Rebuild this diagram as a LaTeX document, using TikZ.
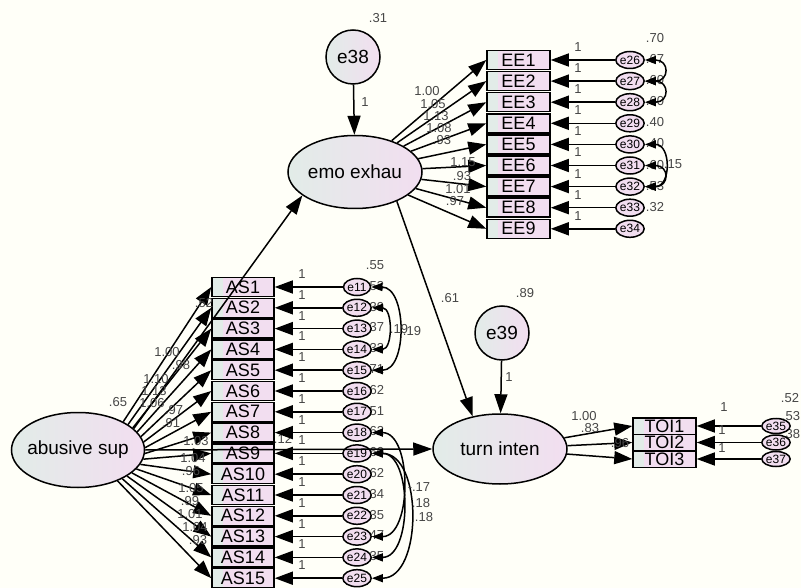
\documentclass[tikz,border=0pt]{standalone}
\usepackage{fontspec}
\setmainfont{Liberation Sans}
\usetikzlibrary{arrows.meta,shapes.geometric}
\definecolor{bgc}{RGB}{255,255,248}
\definecolor{pinkc}{RGB}{242,222,240}
\definecolor{greyc}{RGB}{226,236,232}
\definecolor{txtc}{RGB}{70,70,70}
\begin{document}
\begin{tikzpicture}[x=1pt,y=-1pt,
  lat/.style={ellipse,draw,line width=1.5pt,left color=greyc,right color=pinkc,inner xsep=-15pt,inner ysep=0pt,font=\fontsize{19}{19}\selectfont},
  res/.style={circle,draw,line width=1.5pt,left color=greyc,right color=pinkc,minimum size=54pt,inner sep=0pt,font=\fontsize{19}{19}\selectfont},
  obs/.style={rectangle,draw,line width=1.5pt,fill=pinkc,minimum width=62pt,minimum height=19pt,inner sep=0pt,font=\fontsize{18}{18}\selectfont,
    path picture={\fill[greyc] (path picture bounding box.south west) rectangle ([xshift=11pt]path picture bounding box.north west);}},
  err/.style={ellipse,draw,line width=1.5pt,fill=pinkc,minimum width=27pt,minimum height=17pt,inner sep=0pt,font=\fontsize{12}{12}\selectfont},
  arr/.style={line width=1.5pt,-{Triangle[length=18pt,width=13pt]}},
  barr/.style={line width=1.5pt,-{Triangle[length=19pt,width=13pt]}},
  darr/.style={line width=1.5pt,{Triangle[length=11pt,width=8pt]}-{Triangle[length=11pt,width=8pt]}},
  lab/.style={font=\fontsize{13}{13}\selectfont,text=txtc,inner sep=0pt}
]
\fill[bgc] (0,0) rectangle (801,588);
\useasboundingbox (0,0) rectangle (801,588);

% ---------- variance labels (drawn below the error ellipses)
\foreach \v [count=\i] in {.70,.67,.60,.60,.40,.40,.60,.53,.32} {
  \pgfmathsetmacro\yy{60+21.1*(\i-1)-22}
  \node[lab] at (655,\yy) {\v};
}
\foreach \v [count=\i] in {.55,.53,.39,.37,.33,.71,.62,.51,.62,.60,.62,.34,.35,.47,.35} {
  \pgfmathsetmacro\yy{287+20.8*(\i-1)-22}
  \node[lab] at (375,\yy) {\v};
}
\node[lab] at (790,398) {.52};
\node[lab] at (791,416) {.53};
\node[lab] at (791,434) {.38};
\node[lab] at (283,439) {.12};

% ---------- latent variables and residuals
\node[lat,minimum width=134pt,minimum height=73pt] (emo) at (355,172) {emo exhau};
\node[lat,minimum width=133pt,minimum height=75pt] (abs) at (78,450) {abusive sup};
\node[lat,minimum width=134pt,minimum height=70pt] (turn) at (500,449) {turn inten};
\node[res] (e38) at (353,57) {e38};
\node[res] (e39) at (502,333) {e39};
\node[lab] at (378,18) {.31};
\node[lab] at (525,293) {.89};
\node[lab] at (118,402) {.65};

% ---------- EE indicators
\foreach \i in {1,...,9} {
  \pgfmathsetmacro\yy{60+21.1*(\i-1)}
  \pgfmathtruncatemacro\en{25+\i}
  \node[obs,minimum width=63pt] (EE\i) at (518.5,\yy) {EE\i};
  \node[err] (e\en) at (630,\yy) {e\en};
  \draw[arr] (e\en) -- (EE\i.east);
  \node[lab] at (578,{\yy-13}) {1};
  \draw[arr] (emo) -- (EE\i.west);
}
% ---------- AS indicators
\foreach \i in {1,...,15} {
  \pgfmathsetmacro\yy{287+20.8*(\i-1)}
  \pgfmathtruncatemacro\en{10+\i}
  \node[obs] (AS\i) at (243,\yy) {AS\i};
  \node[err] (e\en) at (357,\yy) {e\en};
  \draw[arr] (e\en) -- (AS\i.east);
  \node[lab] at (302,{\yy-13}) {1};
}
\foreach \i in {1,...,15} {
  \pgfmathsetmacro\aa{32-(\i-1)*5}
  \draw[arr] (abs.\aa) -- (AS\i.west);
}
% ---------- TOI indicators
\foreach \i/\yy in {1/426,2/442.5,3/459} {
  \pgfmathtruncatemacro\en{34+\i}
  \node[obs,minimum width=63pt,minimum height=16.5pt] (TOI\i) at (664.5,\yy) {TOI\i};
  \node[err,minimum height=15pt] (e\en) at (776,\yy) {e\en};
  \draw[arr] (e\en) -- (TOI\i.east);
  \draw[arr] (turn) -- (TOI\i.west);
}
\node[lab] at (724,407) {1};
\node[lab] at (722,430) {1};
\node[lab] at (722,448) {1};

% ---------- structural paths
\draw[barr] (e38) -- (emo);
\draw[barr] (e39) -- (turn);
\draw[barr] (abs.21) -- (emo.204);
\draw[barr] (emo.-35) -- (turn.130);
\draw[barr] (abs.east) -- (turn.west);
\node[lab] at (365,102) {1};
\node[lab] at (509,377) {1};
\node[lab] at (204,303) {.52};
\node[lab] at (450,298) {.61};

% ---------- loading labels
\foreach \t/\x/\y in {1.00/167/352,.98/181/365,1.10/156/379,1.13/154/391,1.06/152/403,.97/174/410,.91/171/423,
  1.03/196/441,1.04/193/458,.96/191/471,1.05/191/488,.99/190/501,1.01/190/514,1.04/195/527,.93/198/540} {
  \node[lab] at (\x,\y) {\t};
}
\foreach \t/\x/\y in {1.00/427/91,1.05/433/104,1.13/436/116,1.08/439/128,.93/442/140,1.15/463/162,.93/462/176,1.01/458/189,.97/455/201} {
  \node[lab] at (\x,\y) {\t};
}
\node[lab] at (584,416) {1.00};
\node[lab] at (590,428) {.83};
\node[lab] at (620,443) {.96};

% ---------- covariances
\draw[darr] (e26.east) to[out=0,in=0,looseness=3] (e27.east);
\draw[darr] (e27.east) to[out=0,in=0,looseness=3] (e28.east);
\draw[darr] (e30.east) to[out=0,in=0,looseness=1.6] (e32.east);
\draw[darr] (e31.east) to[out=0,in=0,looseness=3] (e32.east);
\node[lab] at (673,164) {.15};

\draw[darr] (e11.east) to[out=0,in=0,looseness=1.1] (e15.east);
\draw[darr] (e12.east) to[out=0,in=0,looseness=1.3] (e14.east);
\node[lab] at (399,329) {.19};
\node[lab] at (412,331) {.19};

\draw[darr] (e18.east) to[out=0,in=0,looseness=1] (e23.east);
\draw[darr] (e19.east) to[out=0,in=0,looseness=1] (e24.east);
\draw[darr] (e19.east) to[out=0,in=0,looseness=1.05] (e25.east);
\node[lab] at (419,487) {-.17};
\node[lab] at (421,503) {.18};
\node[lab] at (424,517) {.18};
\end{tikzpicture}
\end{document}
